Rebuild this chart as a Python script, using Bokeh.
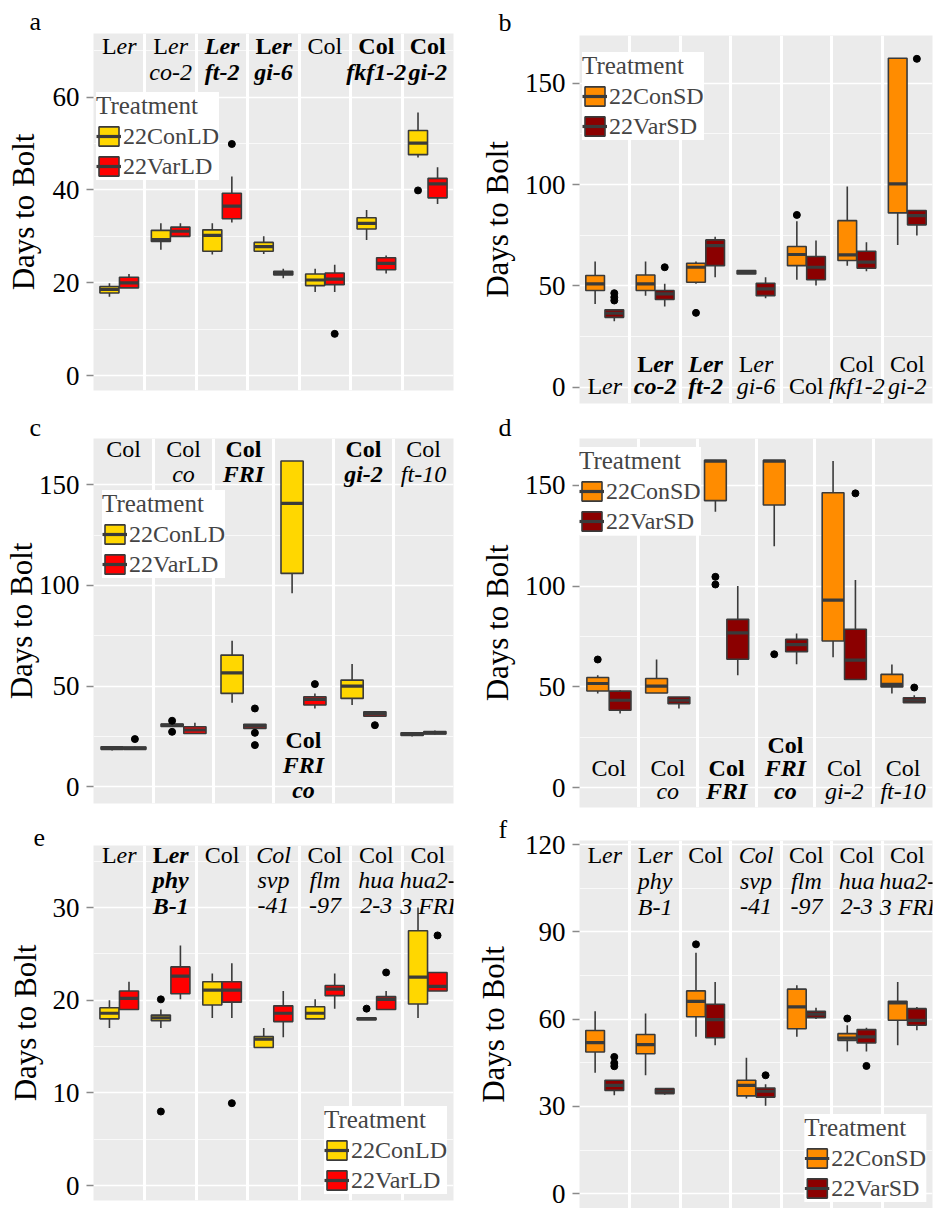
from bokeh.plotting import figure
from bokeh.models import ColumnDataSource, FixedTicker, Range1d, Legend, LegendItem
from bokeh.layouts import column, row
from bokeh.core.properties import value
from bokeh.embed import file_html
from bokeh.resources import INLINE

FONT = "serif"
EDGE = "#3a3a3a"

# ---------------- data ----------------
ld_names = ["22ConLD", "22VarLD"]
ld_colors = ["#FFD700", "#FF0000"]
sd_names = ["22ConSD", "22VarSD"]
sd_colors = ["#FF8C00", "#8B0000"]

# box stats per facet: (lower whisker, q1, median, q3, upper whisker)
# ---- panel a ----
a_labels = ["L|i:er", "L|i:er\ni:co-2", "bi:Ler\nbi:ft-2", "b:L|bi:er\nbi:gi-6",
            "Col", "b:Col\nbi:fkf1-2", "b:Col\nbi:gi-2"]
a_con = [(17.0, 17.8, 18.6, 19.2, 19.9), (27.1, 28.9, 29.3, 31.3, 32.8),
         (26.1, 26.8, 30.2, 31.4, 32.8), (26.2, 26.8, 27.8, 28.7, 30.0),
         (18.0, 19.4, 20.6, 21.9, 23.0), (29.2, 31.6, 32.8, 34.0, 35.7),
         (47.0, 47.6, 50.1, 52.8, 56.7)]
a_var = [(18.9, 18.9, 20.0, 21.2, 21.9), (30.0, 30.0, 31.1, 32.0, 32.8),
         (33.0, 33.8, 36.5, 39.3, 42.9), (21.0, 21.7, 22.0, 22.5, 23.0),
         (18.0, 19.6, 20.8, 22.1, 23.9), (22.0, 22.8, 24.2, 25.4, 25.9),
         (37.0, 38.3, 41.3, 42.5, 44.9)]
a_out_facet = [3, 5, 7]
a_out_group = [1, 1, 0]
a_out_value = [49.9, 9.0, 39.9]
a_ticks = [0, 20, 40, 60]
a_minor = [10, 30, 50, 70]

# ---- panel b ----
b_labels = ["L|i:er", "b:L|bi:er\nbi:co-2", "bi:Ler\nbi:ft-2", "L|i:er\ni:gi-6",
            "Col", "Col\ni:fkf1-2", "Col\ni:gi-2"]
b_con = [(41.1, 47.7, 51.0, 55.1, 62.0), (45.2, 47.7, 51.0, 55.4, 62.0),
         (51.0, 51.8, 59.2, 61.2, 62.0), (55.9, 55.9, 56.7, 57.6, 57.6),
         (53.0, 60.0, 65.5, 69.4, 81.9), (60.0, 62.5, 65.3, 82.2, 99.0),
         (70.2, 86.0, 100.3, 162.3, 162.3)]
b_var = [(32.6, 34.5, 36.5, 38.2, 38.2), (39.8, 43.3, 46.1, 47.7, 51.0),
         (54.3, 60.0, 69.9, 72.7, 74.3), (43.9, 45.2, 48.5, 51.3, 54.3),
         (50.2, 53.0, 59.2, 64.5, 72.4), (57.2, 58.7, 61.7, 67.1, 71.5),
         (74.8, 80.1, 84.7, 87.2, 87.2)]
b_out_facet = [1, 1, 1, 2, 3, 5, 7]
b_out_group = [1, 1, 1, 1, 0, 0, 1]
b_out_value = [46.4, 44.4, 42.8, 59.2, 36.7, 85.0, 162.0]
b_ticks = [0, 50, 100, 150]
b_minor = [25, 75, 125]

# ---- panel c ----
c_labels = ["Col", "Col\ni:co", "b:Col\nbi:FRI", "b:Col\nbi:FRI\nbi:co",
            "b:Col\nbi:gi-2", "Col\ni:ft-10"]
c_label_side = ["top", "top", "top", "bottom", "top", "top"]
c_con = [(18.0, 18.6, 19.2, 19.9, 20.3), (30.0, 30.0, 30.6, 31.2, 31.2),
         (41.7, 46.4, 56.6, 65.4, 72.5), (96.1, 106.0, 140.8, 161.8, 161.8),
         (40.6, 43.9, 50.0, 53.0, 61.0), (25.0, 25.5, 26.0, 26.8, 27.0)]
c_var = [(18.5, 18.6, 19.2, 19.8, 20.0), (26.5, 26.5, 28.2, 29.8, 31.8),
         (29.0, 29.0, 30.2, 31.1, 31.1), (38.9, 40.6, 43.4, 44.7, 46.4),
         (35.1, 35.1, 36.5, 37.3, 37.3), (26.0, 26.2, 26.8, 27.5, 28.0)]
c_out_facet = [1, 2, 2, 3, 3, 3, 4, 5]
c_out_group = [1, 0, 0, 1, 1, 1, 1, 1]
c_out_value = [23.7, 32.8, 27.3, 38.9, 26.8, 20.7, 51.0, 30.6]
c_ticks = [0, 50, 100, 150]
c_minor = [25, 75, 125]

# ---- panel d ----
d_labels = ["Col\n", "Col\ni:co", "b:Col\nbi:FRI", "b:Col\nbi:FRI\nbi:co",
            "Col\ni:gi-2", "Col\ni:ft-10"]
d_con = [(46.7, 48.0, 51.7, 54.7, 55.8), (47.0, 47.0, 50.4, 54.2, 63.6),
         (136.9, 142.4, 162.0, 162.4, 162.4), (119.8, 140.2, 162.0, 162.4, 162.4),
         (64.7, 72.8, 93.0, 146.3, 162.0), (46.7, 50.0, 51.3, 56.2, 61.1)]
d_var = [(36.8, 38.4, 43.4, 47.9, 48.4), (39.3, 41.7, 43.4, 45.0, 45.0),
         (55.8, 63.7, 76.8, 83.5, 100.0), (61.3, 67.5, 71.0, 73.6, 76.5),
         (53.7, 53.7, 63.3, 78.6, 103.0), (42.2, 42.2, 43.4, 44.6, 45.9)]
d_out_facet = [1, 3, 3, 4, 5, 6]
d_out_group = [0, 0, 0, 0, 1, 1]
d_out_value = [63.6, 104.6, 100.8, 66.2, 146.0, 49.7]
d_ticks = [0, 50, 100, 150]
d_minor = [25, 75, 125]

# ---- panel e ----
e_labels = ["L|i:er", "b:L|bi:er\nbi:phy\nbi:B-1", "Col", "i:Col\ni:svp\ni:-41",
            "Col\ni:flm\ni:-97", "Col\ni:hua\ni:2-3", "Col\ni:hua2-\ni:3 FRI"]
e_con = [(17.0, 18.0, 18.6, 19.2, 20.0), (17.0, 17.8, 18.1, 18.4, 19.0),
         (18.1, 19.5, 21.1, 22.0, 22.9), (14.9, 14.9, 15.8, 16.1, 17.0),
         (18.0, 18.0, 18.6, 19.3, 20.1), (17.9, 17.9, 18.0, 18.1, 18.1),
         (18.1, 19.6, 22.5, 27.5, 30.0)]
e_var = [(19.0, 19.0, 20.2, 21.0, 22.0), (20.1, 20.7, 22.6, 23.6, 25.9),
         (18.1, 19.8, 21.1, 22.0, 24.0), (16.0, 17.7, 18.6, 19.4, 21.0),
         (19.1, 20.5, 21.2, 21.6, 22.9), (19.0, 19.0, 20.1, 20.4, 21.0),
         (21.0, 21.0, 21.5, 23.0, 23.0)]
e_out_facet = [2, 2, 3, 6, 6, 7]
e_out_group = [0, 0, 1, 0, 1, 1]
e_out_value = [20.1, 8.0, 8.9, 19.1, 23.0, 27.0]
e_ticks = [0, 10, 20, 30]
e_minor = [5, 15, 25, 35]

# ---- panel f ----
f_labels = ["L|i:er", "L|i:er\ni:phy\ni:B-1", "Col", "i:Col\ni:svp\ni:-41",
            "Col\ni:flm\ni:-97", "Col\ni:hua\ni:2-3", "Col\ni:hua2-\ni:3 FRI"]
f_con = [(41.6, 48.7, 51.9, 56.1, 62.7), (40.7, 48.1, 51.2, 54.7, 61.9),
         (53.9, 60.8, 66.1, 69.7, 82.8), (32.7, 33.6, 37.2, 39.0, 46.7),
         (53.9, 56.7, 64.2, 70.3, 71.6), (48.9, 52.7, 53.5, 55.0, 57.9),
         (51.0, 59.6, 65.6, 66.1, 72.8)]
f_var = [(33.8, 35.5, 37.2, 39.0, 39.0), (34.0, 34.4, 35.2, 36.1, 36.1),
         (51.0, 53.6, 59.8, 65.1, 72.8), (30.2, 33.2, 35.2, 36.3, 37.6),
         (60.0, 60.5, 61.7, 62.7, 63.9), (48.9, 51.8, 53.9, 56.4, 57.0),
         (56.2, 57.9, 59.6, 63.6, 64.2)]
f_out_facet = [1, 1, 1, 3, 4, 6, 6]
f_out_group = [1, 1, 1, 0, 1, 0, 1]
f_out_value = [47.0, 44.9, 43.8, 85.7, 40.7, 60.2, 43.9]
f_ticks = [0, 30, 60, 90, 120]
f_minor = [15, 45, 75, 105]

# ---------------- helpers ----------------
STYLE = {"": "normal", "i": "italic", "b": "bold", "bi": "bold italic"}
CW = {("L", "normal"): 0.611, ("L", "bold"): 0.667, ("L", "bold italic"): 0.611,
      ("e", "italic"): 0.444, ("r", "italic"): 0.389,
      ("e", "bold italic"): 0.444, ("r", "bold italic"): 0.389}


def parse_line(line):
    segs = []
    for part in line.split("|"):
        if ":" in part:
            pre, txt = part.split(":", 1)
        else:
            pre, txt = "", part
        segs.append((txt, STYLE[pre]))
    return segs


def seg_w(txt, style, fs):
    return sum(CW.get((ch, style), 0.5) for ch in txt) * fs


def add_labels(p, labels, sides, yr, fs, top_first, top_lh, bot_last, bot_lh):
    cols = dict(x=[], y=[], text=[], xo=[], yo=[], style=[], align=[])
    for i, lab in enumerate(labels):
        lines = lab.split("\n")
        nl = len(lines)
        side = sides[i]
        for k, line in enumerate(lines):
            if not line.strip():
                continue
            if side == "top":
                yv, yo = yr[1], top_first + k * top_lh
            else:
                yv, yo = yr[0], -(bot_last + (nl - 1 - k) * bot_lh)
            segs = parse_line(line)
            if len(segs) == 1:
                cols["x"].append(i + 1); cols["y"].append(yv); cols["text"].append(segs[0][0])
                cols["xo"].append(0); cols["yo"].append(yo); cols["style"].append(segs[0][1])
                cols["align"].append("center")
            else:
                tot = sum(seg_w(t, s, fs) for t, s in segs)
                cur = -tot / 2
                for t, s in segs:
                    cols["x"].append(i + 1); cols["y"].append(yv); cols["text"].append(t)
                    cols["xo"].append(cur); cols["yo"].append(yo); cols["style"].append(s)
                    cols["align"].append("left")
                    cur += seg_w(t, s, fs)
    p.text(x="x", y="y", text="text", x_offset="xo", y_offset="yo",
           text_font_style="style", text_align="align", text_baseline="alphabetic",
           text_font=value(FONT), text_font_size=f"{fs}px", text_color="black",
           source=ColumnDataSource(cols))


def make_panel(letter, letter_off, letter_standoff, labels, sides, con, var, of, og, ov,
               ticks, minor, yr, names, colors, size, borders, legend_loc, legend_margin,
               label_standoff, top_first=20, top_lh=26, bot_last=7, bot_lh=24):
    n = len(labels)
    W, H = size
    bl, br, bt, bb = borders
    p = figure(width=W, height=H, x_range=Range1d(0.5, n + 0.5), y_range=Range1d(*yr),
               x_axis_location=None, output_backend="svg", toolbar_location=None,
               min_border_left=bl, min_border_right=br, min_border_top=bt, min_border_bottom=bb)
    p.title.text = letter
    p.title.text_font = FONT
    p.title.text_font_size = "26px"
    p.title.text_font_style = "normal"
    p.title.text_color = "black"
    p.title.align = "left"
    p.title.offset = letter_off
    p.title.standoff = letter_standoff
    p.background_fill_color = "#EBEBEB"
    p.border_fill_color = "white"
    p.outline_line_color = None
    p.xgrid.ticker = FixedTicker(ticks=[i + 0.5 for i in range(1, n)])
    p.xgrid.grid_line_color = "white"
    p.xgrid.grid_line_width = 3
    p.yaxis.ticker = FixedTicker(ticks=ticks, minor_ticks=minor)
    p.ygrid.grid_line_color = "white"
    p.ygrid.grid_line_width = 1.6
    p.ygrid.minor_grid_line_color = "white"
    p.ygrid.minor_grid_line_width = 0.7
    ax = p.yaxis[0]
    ax.axis_label = "Days to Bolt"
    ax.axis_label_text_font = FONT
    ax.axis_label_text_font_size = "31px"
    ax.axis_label_text_font_style = "normal"
    ax.axis_label_text_color = "black"
    ax.axis_label_standoff = label_standoff
    ax.major_label_text_font = FONT
    ax.major_label_text_font_size = "27px"
    ax.major_label_text_color = "black"
    ax.major_label_standoff = 7
    ax.axis_line_color = None
    ax.major_tick_out = 7
    ax.major_tick_in = 0
    ax.minor_tick_out = 0
    ax.minor_tick_in = 0
    ax.major_tick_line_color = "#8a8a8a"
    ax.major_tick_line_width = 1.5

    off = [-0.19, 0.19]
    bw = 0.37
    items = []
    for g, (stats, name, color) in enumerate(zip([con, var], names, colors)):
        xs = [i + 1 + off[g] for i in range(n)]
        lo, q1, med, q3, hi = (list(v) for v in zip(*stats))
        src = ColumnDataSource(dict(x=xs, lo=lo, q1=q1, med=med, q3=q3, hi=hi,
                                    xl=[x - bw / 2 for x in xs], xr=[x + bw / 2 for x in xs]))
        p.segment(x0="x", y0="q3", x1="x", y1="hi", line_color=EDGE, line_width=1.6, source=src)
        p.segment(x0="x", y0="lo", x1="x", y1="q1", line_color=EDGE, line_width=1.6, source=src)
        box = p.vbar(x="x", width=bw, bottom="q1", top="q3", fill_color=color,
                     line_color=EDGE, line_width=1.6, source=src)
        medr = p.segment(x0="xl", y0="med", x1="xr", y1="med", line_color=EDGE,
                         line_width=3.2, source=src)
        items.append(LegendItem(label=name, renderers=[box, medr]))
    ox = [f + off[g] for f, g in zip(of, og)]
    p.scatter(x=ox, y=ov, size=7, color="black", marker="circle")

    add_labels(p, labels, sides, yr, 24, top_first, top_lh, bot_last, bot_lh)

    leg = Legend(items=items, title="Treatment", location=legend_loc)
    leg.title_text_font = FONT
    leg.title_text_font_size = "25px"
    leg.title_text_font_style = "normal"
    leg.title_standoff = 2
    leg.label_text_font = FONT
    leg.label_text_font_size = "24px"
    leg.label_standoff = 2
    leg.label_height = 28
    leg.glyph_width = 25
    leg.glyph_height = 24
    leg.spacing = 2
    leg.padding = 6
    leg.margin = legend_margin
    leg.border_line_color = None
    leg.background_fill_color = "white"
    leg.background_fill_alpha = 1.0
    p.add_layout(leg)
    return p


top7 = ["top"] * 7
bot7 = ["bottom"] * 7

pa = make_panel("a", -64, -5, a_labels, top7, a_con, a_var, a_out_facet, a_out_group,
                a_out_value, a_ticks, a_minor, (-3.2, 73.7), ld_names, ld_colors,
                (472, 408), (86, 19, 33, 18), (3, 210), 0, 9, top_first=12, top_lh=26.5)
pb = make_panel("b", -81, -3, b_labels, bot7, b_con, b_var, b_out_facet, b_out_group,
                b_out_value, b_ticks, b_minor, (-8.0, 173.5), sd_names, sd_colors,
                (473, 408), (92, 13, 35, 5), (3, 263), 0, 7, bot_last=18, bot_lh=22)
pc = make_panel("c", -64, -6, c_labels, c_label_side, c_con, c_var, c_out_facet,
                c_out_group, c_out_value, c_ticks, c_minor, (-8.3, 173.0), ld_names,
                ld_colors, (472, 407), (86, 19, 30, 12), (9, 225), 0, -3,
                top_first=10, top_lh=25, bot_last=14, bot_lh=25)
pd_ = make_panel("d", -81, -6, d_labels, ["bottom"] * 6, d_con, d_var, d_out_facet,
                 d_out_group, d_out_value, d_ticks, d_minor, (-9.8, 173.2), sd_names,
                 sd_colors, (473, 407), (92, 13, 30, 8), (0, 272), 0, 7,
                 bot_last=17, bot_lh=23)
pe = make_panel("e", -60, -1, e_labels, top7, e_con, e_var, e_out_facet, e_out_group,
                e_out_value, e_ticks, e_minor, (-1.6, 36.7), ld_names, ld_colors,
                (472, 393), (86, 19, 30, 8), "bottom_right", 6, 7,
                top_first=9, top_lh=25.5)
pf = make_panel("f", -81, -6, f_labels, top7, f_con, f_var, f_out_facet, f_out_group,
                f_out_value, f_ticks, f_minor, (-5.1, 121.4), sd_names, sd_colors,
                (473, 393), (92, 13, 25, 0), "bottom_right", 6, 11,
                top_first=14, top_lh=26)

layout = row(column(pa, pc, pe), column(pb, pd_, pf))
open("out.html", "w").write(file_html(layout, INLINE))
